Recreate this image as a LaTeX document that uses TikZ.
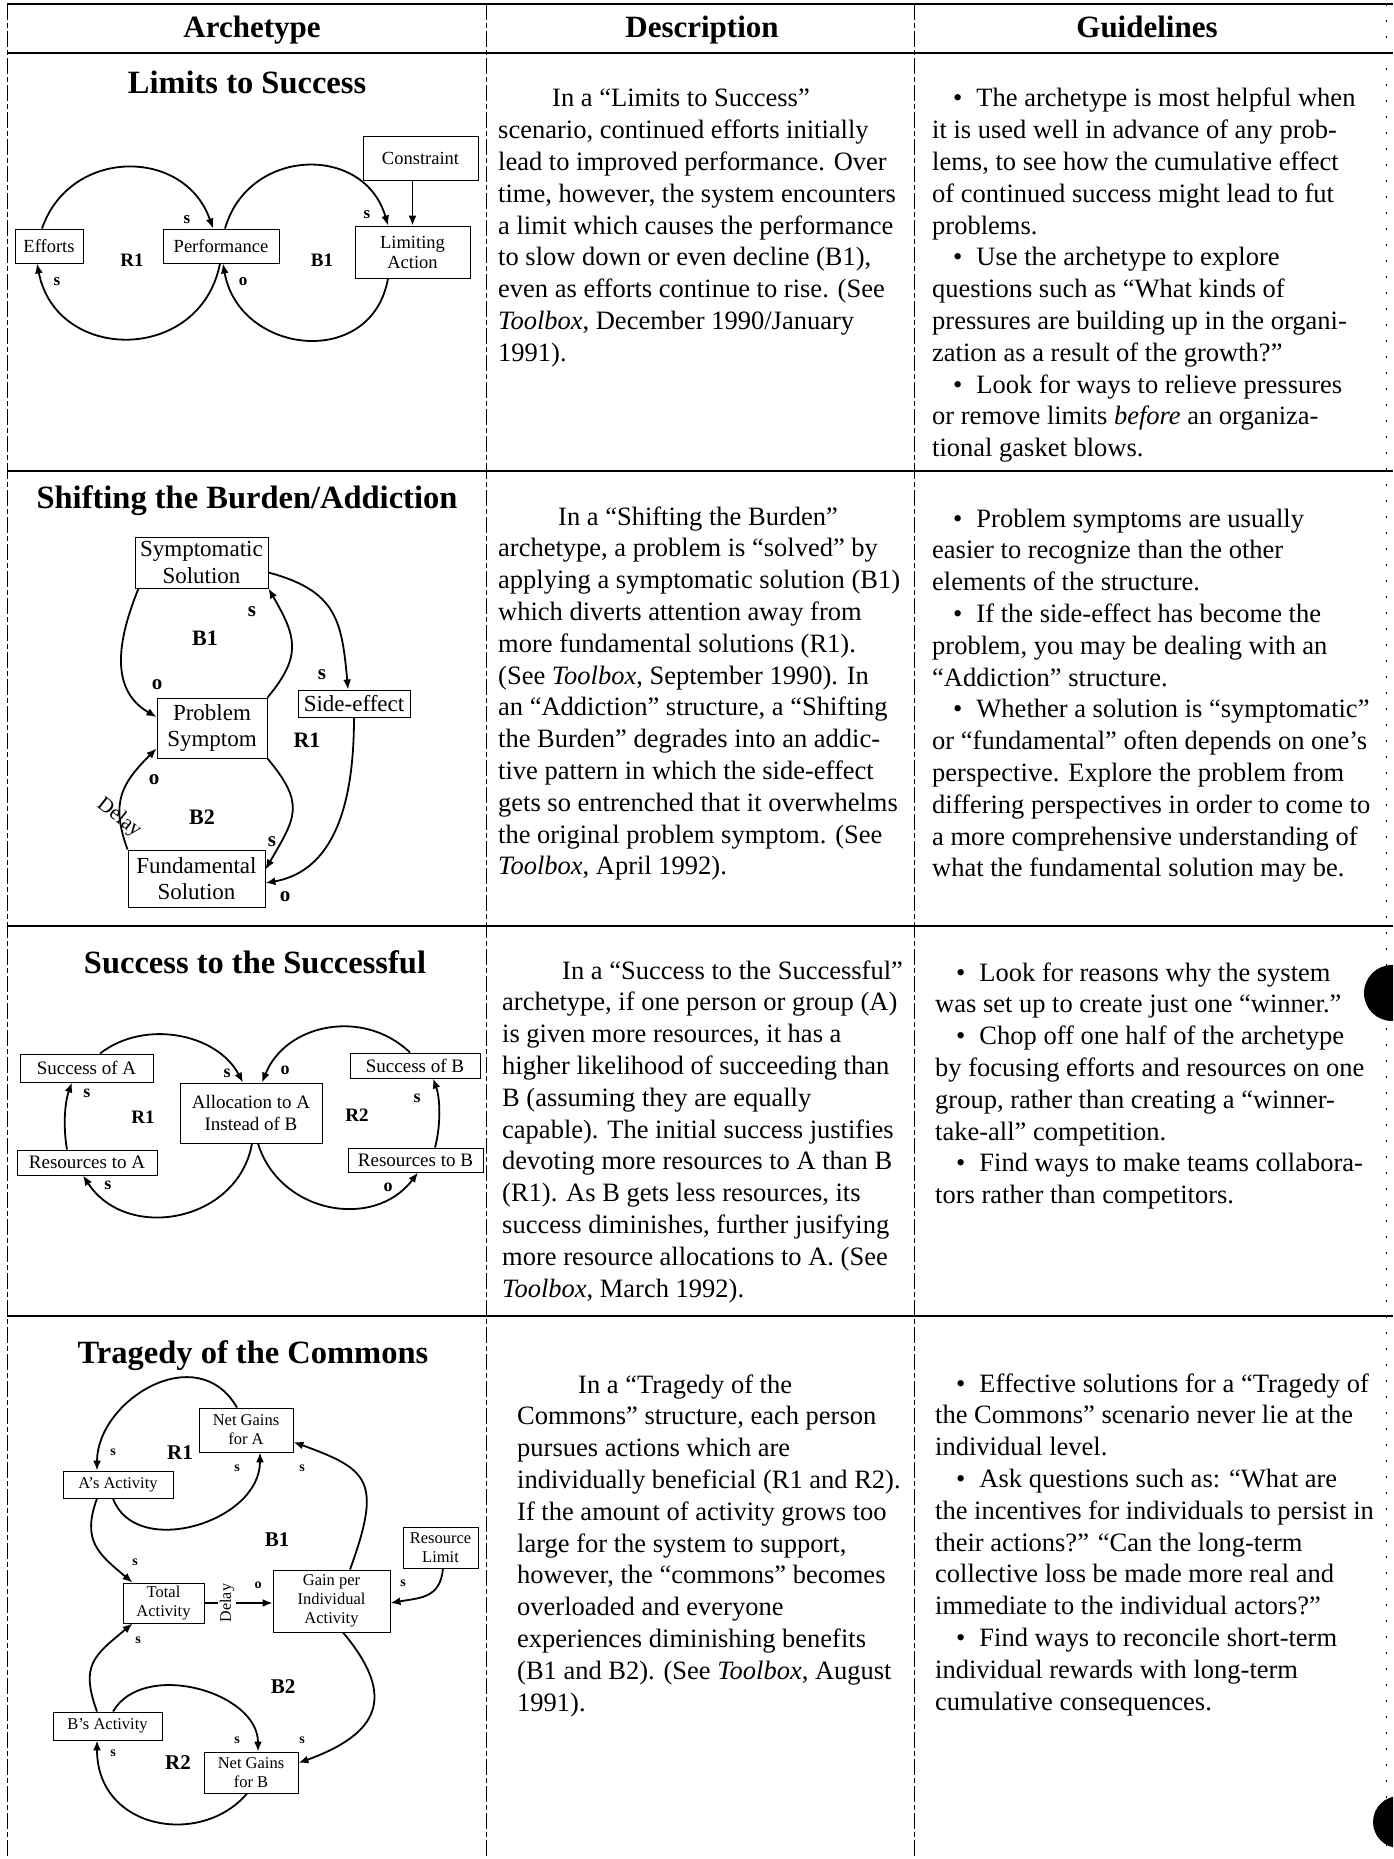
\documentclass[tikz,border=0pt]{standalone}
\usepackage{fontspec}
\setmainfont{Liberation Serif}
\usetikzlibrary{arrows.meta}

\newcommand\setfs[2]{\fontsize{#1}{#2}\selectfont}
\newcommand\bul{\hspace*{21pt}•\hspace{14pt}}

\begin{document}
\begin{tikzpicture}[x=1pt,y=1pt,
  hrule/.style={line width=1.4pt},
  vrule/.style={line width=1pt, dash pattern=on 16pt off 3pt on 5pt off 3pt},
  edgerule/.style={line width=1pt, dash pattern=on 2pt off 14pt},
  hdr/.style={anchor=base, inner sep=0, font=\setfs{31}{36}\bfseries},
  ttl/.style={anchor=base, inner sep=0, font=\setfs{32.5}{38}\bfseries},
  cell/.style={anchor=base west, inner sep=0, font=\setfs{26.5}{31.8}},
  box/.style={draw, line width=0.9pt, inner sep=0, align=center},
  boxA/.style={box, font=\setfs{18.5}{20}},
  boxB/.style={box, font=\setfs{23}{26.5}},
  boxC/.style={box, font=\setfs{19}{22}},
  boxD/.style={box, font=\setfs{16.5}{19}},
  link/.style={line width=1.8pt, -{Latex[length=10pt,width=8pt]}},
  polA/.style={inner sep=0, font=\setfs{17}{20}\bfseries},
  polB/.style={inner sep=0, font=\setfs{21}{24}\bfseries},
  polC/.style={inner sep=0, font=\setfs{18}{20}\bfseries},
  polD/.style={inner sep=0, font=\setfs{14}{16}\bfseries},
  lpA/.style={inner sep=0, font=\setfs{19}{22}\bfseries},
  lpB/.style={inner sep=0, font=\setfs{22}{25}\bfseries},
  lpC/.style={inner sep=0, font=\setfs{19}{22}\bfseries},
  lpD/.style={inner sep=0, font=\setfs{21}{24}\bfseries},
]
% page
\fill[white] (0,0) rectangle (1393,-1859);
\useasboundingbox (0,0) rectangle (1393,-1859);

% ---------- table rules ----------
\foreach \yy in {4,53,471,926,1316}
  \draw[hrule] (7,-\yy) -- (1393,-\yy);
\foreach \xx in {7,486,914}
  \draw[vrule] (\xx,-4) -- (\xx,-1859);
\draw[edgerule] (1386,-4) -- (1386,-1859);

% punch holes at the right margin
\begin{scope}
  \clip (0,0) rectangle (1393,-1859);
  \fill[black] (1392,-993) circle (28);
  \fill[black] (1399,-1822) circle (26);
\end{scope}

% ---------- header ----------
\node[hdr] (h1) at (252,-38) {Archetype};
\node[hdr] (h2) at (702,-38) {Description};
\node[hdr] (h3) at (1147,-38) {Guidelines};

% ---------- titles ----------
\node[ttl] (t1) at (247,-94) {Limits to Success};
\node[ttl] (t2) at (247,-508) {Shifting the Burden/Addiction};
\node[ttl] (t3) at (255,-973) {Success to the Successful};
\node[ttl] (t4) at (253,-1363) {Tragedy of the Commons};

% ---------- descriptions ----------
\node[cell] (d1) at (498,-107) {\parbox[t]{440pt}{\hspace*{54pt}In a “Limits to Success”\\
scenario, continued efforts initially\\
lead to improved performance. Over\\
time, however, the system encounters\\
a limit which causes the performance\\
to slow down or even decline (B1),\\
even as efforts continue to rise. (See\\
\textit{Toolbox}, December 1990/January\\
1991).}};

\node[cell] (d2) at (498,-525) {\parbox[t]{440pt}{\hspace*{60pt}In a “Shifting the Burden”\\
archetype, a problem is “solved” by\\
applying a symptomatic solution (B1)\\
which diverts attention away from\\
more fundamental solutions (R1).\\
(See \textit{Toolbox}, September 1990). In\\
an “Addiction” structure, a “Shifting\\
the Burden” degrades into an addic-\\
tive pattern in which the side-effect\\
gets so entrenched that it overwhelms\\
the original problem symptom. (See\\
\textit{Toolbox}, April 1992).}};

\node[cell] (d3) at (502,-979) {\parbox[t]{440pt}{\hspace*{60pt}In a “Success to the Successful”\\
archetype, if one person or group (A)\\
is given more resources, it has a\\
higher likelihood of succeeding than\\
B (assuming they are equally\\
capable). The initial success justifies\\
devoting more resources to A than B\\
(R1). As B gets less resources, its\\
success diminishes, further jusifying\\
more resource allocations to A. (See\\
\textit{Toolbox}, March 1992).}};

\node[cell] (d4) at (517,-1393) {\parbox[t]{440pt}{\hspace*{61pt}In a “Tragedy of the\\
Commons” structure, each person\\
pursues actions which are\\
individually beneficial (R1 and R2).\\
If the amount of activity grows too\\
large for the system to support,\\
however, the “commons” becomes\\
overloaded and everyone\\
experiences diminishing benefits\\
(B1 and B2). (See \textit{Toolbox}, August\\
1991).}};

% ---------- guidelines ----------
\node[cell] (g1) at (932,-107) {\parbox[t]{470pt}{\bul The archetype is most helpful when\\
it is used well in advance of any prob-\\
lems, to see how the cumulative effect\\
of continued success might lead to fut\\
problems.\\
\bul Use the archetype to explore\\
questions such as “What kinds of\\
pressures are building up in the organi-\\
zation as a result of the growth?”\\
\bul Look for ways to relieve pressures\\
or remove limits \textit{before} an organiza-\\
tional gasket blows.}};

\node[cell] (g2) at (932,-527) {\parbox[t]{470pt}{\bul Problem symptoms are usually\\
easier to recognize than the other\\
elements of the structure.\\
\bul If the side-effect has become the\\
problem, you may be dealing with an\\
“Addiction” structure.\\
\bul Whether a solution is “symptomatic”\\
or “fundamental” often depends on one’s\\
perspective. Explore the problem from\\
differing perspectives in order to come to\\
a more comprehensive understanding of\\
what the fundamental solution may be.}};

\node[cell] (g3) at (935,-981) {\parbox[t]{470pt}{\bul Look for reasons why the system\\
was set up to create just one “winner.”\\
\bul Chop off one half of the archetype\\
by focusing efforts and resources on one\\
group, rather than creating a “winner-\\
take-all” competition.\\
\bul Find ways to make teams collabora-\\
tors rather than competitors.}};

\node[cell] (g4) at (935,-1392) {\parbox[t]{470pt}{\bul Effective solutions for a “Tragedy of\\
the Commons” scenario never lie at the\\
individual level.\\
\bul Ask questions such as: “What are\\
the incentives for individuals to persist in\\
their actions?” “Can the long-term\\
collective loss be made more real and\\
immediate to the individual actors?”\\
\bul Find ways to reconcile short-term\\
individual rewards with long-term\\
cumulative consequences.}};

% ---------- Limits to Success ----------
\node[boxA, minimum width=68pt, minimum height=34pt] (eff) at (49,-246) {Efforts};
\node[boxA, minimum width=116pt, minimum height=34pt] (perf) at (221,-246) {Performance};
\node[boxA, minimum width=115pt, minimum height=52pt] (lim) at (412.5,-252) {Limiting\\Action};
\node[boxA, minimum width=115pt, minimum height=44pt] (con) at (420.5,-158) {Constraint};
\draw[link] ([xshift=-7pt]eff.north) to[out=71,in=109,distance=86pt] ([xshift=-8pt]perf.north);
\draw[link] ([xshift=-1pt]perf.south) to[out=-101,in=-79,distance=102pt] ([xshift=-12pt]eff.south);
\draw[link] ([xshift=4pt]perf.north) to[out=74,in=106,distance=85pt] ([xshift=-24.5pt]lim.north);
\draw[link] ([xshift=-24.5pt]lim.south) to[out=-100,in=-80,distance=93pt] ([xshift=2pt]perf.south);
\draw[link] (con.south -| lim.north) -- (lim.north);
\node[polA] (a1) at (187,-220) {s};
\node[polA] (a2) at (57,-282) {s};
\node[polA] (a3) at (367,-215) {s};
\node[polA] (a4) at (243,-282) {o};
\node[lpA] (a5) at (132,-260) {R1};
\node[lpA] (a6) at (322,-260) {B1};

% ---------- Shifting the Burden ----------
\node[boxB, minimum width=133pt, minimum height=51pt] (sym) at (201.5,-562.5) {Symptomatic\\Solution};
\node[boxB, minimum width=110pt, minimum height=60pt] (prob) at (212,-728) {Problem\\Symptom};
\node[boxB, minimum width=112pt, minimum height=27pt] (side) at (354,-703.5) {Side-effect};
\node[boxB, minimum width=137pt, minimum height=57pt] (fund) at (196.5,-878.5) {Fundamental\\Solution};
\draw[link] ([xshift=-63pt]sym.south) to[out=-112,in=150,distance=55pt] ([yshift=11pt]prob.west);
\draw[link] (prob.north east) to[out=50,in=-60,distance=55pt] (sym.south east);
\draw[link] ([yshift=-10pt]sym.east) to[out=-15,in=95,distance=70pt] ([xshift=-6pt]side.north);
\draw[link] (side.south) to[out=-90,in=10,distance=75pt] ([yshift=-4.5pt]fund.east);
\draw[link] (prob.south east) to[out=-50,in=60,distance=60pt] ([yshift=-20pt]fund.north east);
\draw[link] (fund.north west) to[out=110,in=225,distance=50pt] ([yshift=10pt]prob.south west);
\node[rotate=-38, inner sep=0, font=\setfs{21}{24}] (dl2) at (119,-818) {Delay};
\node[polB] (b1) at (252,-612) {s};
\node[polB] (b2) at (322,-675) {s};
\node[polB] (b3) at (272,-842) {s};
\node[polB] (b4) at (157,-685) {o};
\node[polB] (b5) at (154,-780) {o};
\node[polB] (b6) at (285,-897) {o};
\node[lpB] (b7) at (205,-638) {B1};
\node[lpB] (b8) at (307,-740) {R1};
\node[lpB] (b9) at (202,-817) {B2};

% ---------- Success to the Successful ----------
\node[boxC, minimum width=133pt, minimum height=28pt] (sa) at (86.5,-1068) {Success of A};
\node[boxC, minimum width=140pt, minimum height=25pt] (ra) at (87,-1162.5) {Resources to A};
\node[boxC, minimum width=142pt, minimum height=60pt] (alloc) at (251,-1113) {Allocation to A\\Instead of B};
\node[boxC, minimum width=130pt, minimum height=25pt] (sb) at (415,-1065.5) {Success of B};
\node[boxC, minimum width=135pt, minimum height=24pt] (rb) at (415.5,-1160) {Resources to B};
\draw[link] ([xshift=13.5pt]sa.north) to[out=38,in=118,distance=56pt] ([xshift=-8pt]alloc.north);
\draw[link] ([xshift=-20pt]ra.north) to[out=100,in=-110,distance=22pt] ([xshift=-14.5pt]sa.south);
\draw[link] ([xshift=1pt]alloc.south) to[out=-100,in=-57,distance=80pt] ([xshift=-4pt]ra.south);
\draw[link] ([xshift=-5pt]sb.north) to[out=136,in=68,distance=64pt] ([xshift=11pt]alloc.north);
\draw[link] ([xshift=19.5pt]rb.north) to[out=75,in=-70,distance=22pt] ([xshift=18pt]sb.south);
\draw[link] ([xshift=7pt]alloc.south) to[out=-73,in=-127,distance=73pt] ([xshift=2.5pt]rb.south);
\node[polC] (c1) at (227,-1073) {s};
\node[polC] (c2) at (285,-1070) {o};
\node[polC] (c3) at (87,-1093) {s};
\node[polC] (c4) at (108,-1185) {s};
\node[polC] (c5) at (417,-1098) {s};
\node[polC] (c6) at (388,-1187) {o};
\node[lpC] (c7) at (143,-1117) {R1};
\node[lpC] (c8) at (357,-1115) {R2};

% ---------- Tragedy of the Commons ----------
\node[boxD, minimum width=94pt, minimum height=44pt] (nga) at (246,-1430) {Net Gains\\for A};
\node[boxD, minimum width=110pt, minimum height=27pt] (aa) at (118,-1484.5) {A’s Activity};
\node[boxD, minimum width=75pt, minimum height=41pt] (rl) at (440.5,-1547.5) {Resource\\Limit};
\node[boxD, minimum width=117pt, minimum height=62pt] (gain) at (331.5,-1601) {Gain per\\Individual\\Activity};
\node[boxD, minimum width=81pt, minimum height=40pt] (ta) at (163.5,-1603) {Total\\Activity};
\node[boxD, minimum width=109pt, minimum height=28pt] (ba) at (107.5,-1726) {B’s Activity};
\node[boxD, minimum width=94pt, minimum height=41pt] (ngb) at (251,-1772.5) {Net Gains\\for B};
\draw[link] ([xshift=-9pt]nga.north) to[out=120,in=90,out distance=80pt,in distance=70pt] ([xshift=-21pt]aa.north);
\draw[link] ([xshift=-5pt]aa.south) to[out=-70,in=-90,out distance=65pt,in distance=70pt] ([xshift=14pt]nga.south);
\draw[link] ([xshift=-21pt]aa.south) to[out=-110,in=140,distance=45pt] ([xshift=10pt]ta.north west);
\draw[link] ([xshift=18.5pt]gain.north) to[out=70,in=-20,out distance=95pt,in distance=80pt] ([yshift=-12pt]nga.east);
\draw[link] (ta.east) -- node[pos=0.33, rotate=90, fill=white, inner sep=2pt, font=\setfs{16}{18}] (dl4) {Delay} (ta.east -| gain.west);
\draw[link] ([xshift=2.5pt]rl.south) to[out=-95,in=10,distance=30pt] ([yshift=-2pt]gain.east);
\draw[link] ([xshift=11.5pt]gain.south) to[out=-50,in=20,distance=85pt] ([yshift=9.5pt]ngb.east);
\draw[link] ([xshift=-10.5pt]ba.north) to[out=110,in=-140,distance=50pt] ([xshift=10pt]ta.south west);
\draw[link] ([xshift=5.5pt]ba.north) to[out=60,in=90,distance=60pt] ([xshift=7pt]ngb.north);
\draw[link] ([xshift=-4pt]ngb.south) to[out=-130,in=-90,out distance=70pt,in distance=90pt] ([xshift=-10.5pt]ba.south);
\node[polD] (e1) at (113,-1452) {s};
\node[polD] (e2) at (237,-1468) {s};
\node[polD] (e3) at (302,-1468) {s};
\node[polD] (e4) at (135,-1562) {s};
\node[polD] (e5) at (138,-1640) {s};
\node[polD] (e6) at (403,-1583) {s};
\node[polD] (e7) at (258,-1585) {o};
\node[polD] (e8) at (237,-1740) {s};
\node[polD] (e9) at (302,-1740) {s};
\node[polD] (e10) at (113,-1753) {s};
\node[lpD] (e11) at (180,-1453) {R1};
\node[lpD] (e12) at (277,-1540) {B1};
\node[lpD] (e13) at (283,-1687) {B2};
\node[lpD] (e14) at (178,-1763) {R2};
\end{tikzpicture}
\end{document}
